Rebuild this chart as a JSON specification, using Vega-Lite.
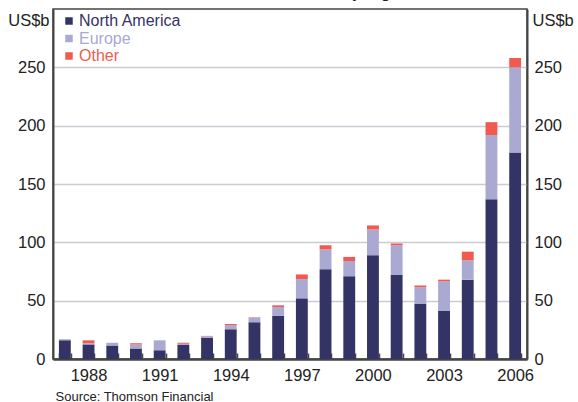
{
  "$schema": "https://vega.github.io/schema/vega-lite/v6.json",
  "autosize": "none",
  "width": 474,
  "height": 350,
  "padding": {"left": 53, "top": 9, "right": 51, "bottom": 43},
  "background": "white",
  "config": {
    "font": "Liberation Sans",
    "view": {"stroke": "#444", "strokeWidth": 1.5},
    "axis": {"labelColor": "#222", "titleColor": "#222", "labelFont": "Liberation Sans", "titleFont": "Liberation Sans"}
  },
  "title": {
    "text": "Value of funds raised, by region",
    "fontSize": 17,
    "fontWeight": "normal",
    "color": "#222",
    "anchor": "middle",
    "frame": "group",
    "baseline": "alphabetic",
    "offset": 0,
    "dx": 4,
    "dy": 6
  },
  "data": {
    "values": [
      {"year": 1987, "region": "North America", "ord": 1, "value": 16},
      {"year": 1987, "region": "Europe", "ord": 2, "value": 1},
      {"year": 1987, "region": "Other", "ord": 3, "value": 0},
      {"year": 1988, "region": "North America", "ord": 1, "value": 12.5},
      {"year": 1988, "region": "Europe", "ord": 2, "value": 1},
      {"year": 1988, "region": "Other", "ord": 3, "value": 2.5},
      {"year": 1989, "region": "North America", "ord": 1, "value": 11.5},
      {"year": 1989, "region": "Europe", "ord": 2, "value": 2.5},
      {"year": 1989, "region": "Other", "ord": 3, "value": 0},
      {"year": 1990, "region": "North America", "ord": 1, "value": 9},
      {"year": 1990, "region": "Europe", "ord": 2, "value": 3.5},
      {"year": 1990, "region": "Other", "ord": 3, "value": 1},
      {"year": 1991, "region": "North America", "ord": 1, "value": 7.5},
      {"year": 1991, "region": "Europe", "ord": 2, "value": 8.5},
      {"year": 1991, "region": "Other", "ord": 3, "value": 0},
      {"year": 1992, "region": "North America", "ord": 1, "value": 12},
      {"year": 1992, "region": "Europe", "ord": 2, "value": 1},
      {"year": 1992, "region": "Other", "ord": 3, "value": 1},
      {"year": 1993, "region": "North America", "ord": 1, "value": 18},
      {"year": 1993, "region": "Europe", "ord": 2, "value": 1.5},
      {"year": 1993, "region": "Other", "ord": 3, "value": 0.3},
      {"year": 1994, "region": "North America", "ord": 1, "value": 25.5},
      {"year": 1994, "region": "Europe", "ord": 2, "value": 3.5},
      {"year": 1994, "region": "Other", "ord": 3, "value": 1},
      {"year": 1995, "region": "North America", "ord": 1, "value": 31.5},
      {"year": 1995, "region": "Europe", "ord": 2, "value": 4},
      {"year": 1995, "region": "Other", "ord": 3, "value": 0.3},
      {"year": 1996, "region": "North America", "ord": 1, "value": 37},
      {"year": 1996, "region": "Europe", "ord": 2, "value": 7.5},
      {"year": 1996, "region": "Other", "ord": 3, "value": 1.5},
      {"year": 1997, "region": "North America", "ord": 1, "value": 52},
      {"year": 1997, "region": "Europe", "ord": 2, "value": 16.5},
      {"year": 1997, "region": "Other", "ord": 3, "value": 4},
      {"year": 1998, "region": "North America", "ord": 1, "value": 77},
      {"year": 1998, "region": "Europe", "ord": 2, "value": 17},
      {"year": 1998, "region": "Other", "ord": 3, "value": 3.5},
      {"year": 1999, "region": "North America", "ord": 1, "value": 71},
      {"year": 1999, "region": "Europe", "ord": 2, "value": 13},
      {"year": 1999, "region": "Other", "ord": 3, "value": 3.5},
      {"year": 2000, "region": "North America", "ord": 1, "value": 89},
      {"year": 2000, "region": "Europe", "ord": 2, "value": 22},
      {"year": 2000, "region": "Other", "ord": 3, "value": 3.5},
      {"year": 2001, "region": "North America", "ord": 1, "value": 72},
      {"year": 2001, "region": "Europe", "ord": 2, "value": 25.5},
      {"year": 2001, "region": "Other", "ord": 3, "value": 1.5},
      {"year": 2002, "region": "North America", "ord": 1, "value": 47.5},
      {"year": 2002, "region": "Europe", "ord": 2, "value": 14},
      {"year": 2002, "region": "Other", "ord": 3, "value": 1.5},
      {"year": 2003, "region": "North America", "ord": 1, "value": 41.5},
      {"year": 2003, "region": "Europe", "ord": 2, "value": 25},
      {"year": 2003, "region": "Other", "ord": 3, "value": 1.5},
      {"year": 2004, "region": "North America", "ord": 1, "value": 68},
      {"year": 2004, "region": "Europe", "ord": 2, "value": 16.5},
      {"year": 2004, "region": "Other", "ord": 3, "value": 7.5},
      {"year": 2005, "region": "North America", "ord": 1, "value": 137},
      {"year": 2005, "region": "Europe", "ord": 2, "value": 55},
      {"year": 2005, "region": "Other", "ord": 3, "value": 11},
      {"year": 2006, "region": "North America", "ord": 1, "value": 177},
      {"year": 2006, "region": "Europe", "ord": 2, "value": 73},
      {"year": 2006, "region": "Other", "ord": 3, "value": 8}
    ]
  },
  "encoding": {
    "x": {
      "field": "year",
      "type": "ordinal",
      "scale": {"paddingInner": 0.5, "paddingOuter": 0.25},
      "axis": {
        "title": "Source: Thomson Financial",
        "titleFontSize": 13,
        "titleFontWeight": "normal",
        "titleAnchor": "start",
        "titleAlign": "left",
        "titleBaseline": "middle",
        "titleX": 2,
        "titleY": 37,
        "labelAngle": 0,
        "labelFontSize": 16.5,
        "labelPadding": 14,
        "labelExpr": "(+datum.value - 1988) % 3 == 0 ? datum.value : ''",
        "tickBand": "extent",
        "tickSize": -6,
        "tickColor": "#444",
        "tickWidth": 1.5,
        "domainColor": "#444",
        "domainWidth": 2.5
      }
    }
  },
  "layer": [
    {
      "mark": {"type": "bar"},
      "encoding": {
        "y": {
          "field": "value",
          "type": "quantitative",
          "stack": "zero",
          "scale": {"domain": [0, 300], "nice": false},
          "axis": {
            "orient": "left",
            "values": [0, 50, 100, 150, 200, 250],
            "title": "US$b",
            "titleAngle": 0,
            "titleAlign": "right",
            "titleBaseline": "middle",
            "titleFontSize": 16.5,
            "titleFontWeight": "normal",
            "titleX": -4,
            "titleY": 11,
            "labelFontSize": 16.5,
            "labelPadding": 8,
            "ticks": false,
            "grid": true,
            "gridColor": "#c9ccd3",
            "gridWidth": 1.5,
            "domainColor": "#444",
            "domainWidth": 2
          }
        },
        "color": {
          "field": "region",
          "type": "nominal",
          "scale": {
            "domain": ["North America", "Europe", "Other"],
            "range": ["#333366", "#a9a9d1", "#f15a4e"]
          },
          "legend": {
            "title": null,
            "orient": "none",
            "legendX": 8,
            "legendY": 4,
            "direction": "vertical",
            "symbolType": "square",
            "symbolSize": 56,
            "symbolStrokeWidth": 0,
            "labelFontSize": 16,
            "labelOffset": 2,
            "rowPadding": 1.5,
            "padding": 0,
            "encode": {
              "labels": {"update": {"fill": {"scale": "color", "field": "value"}}}
            }
          }
        },
        "order": {"field": "ord", "type": "quantitative"}
      }
    },
    {
      "mark": {"type": "bar", "opacity": 0},
      "encoding": {
        "y": {
          "field": "value",
          "type": "quantitative",
          "scale": {"domain": [0, 300], "nice": false},
          "axis": {
            "orient": "right",
            "values": [0, 50, 100, 150, 200, 250],
            "title": "US$b",
            "titleAngle": 0,
            "titleAlign": "left",
            "titleBaseline": "middle",
            "titleFontSize": 16.5,
            "titleFontWeight": "normal",
            "titleX": 5,
            "titleY": 11,
            "labelFontSize": 16.5,
            "labelPadding": 7,
            "ticks": false,
            "grid": false,
            "domainColor": "#444",
            "domainWidth": 2
          }
        }
      }
    }
  ],
  "resolve": {"scale": {"y": "independent"}}
}
